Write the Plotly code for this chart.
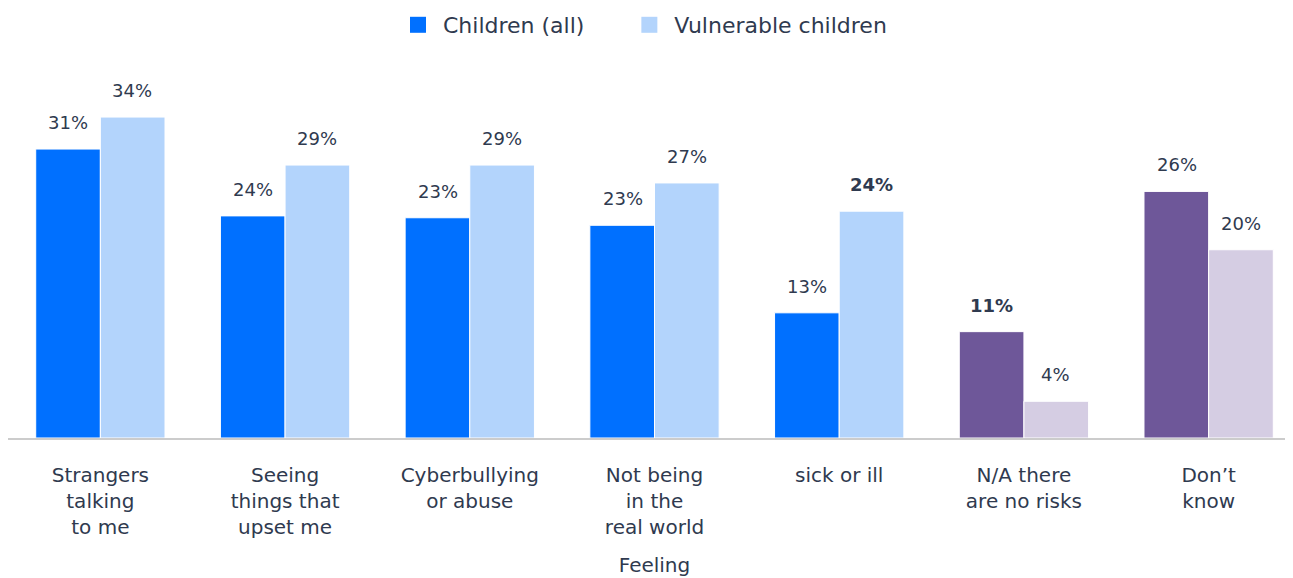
import plotly.graph_objects as go

categories = ["Strangers<br>talking<br>to me", "Seeing<br>things that<br>upset me",
              "Cyberbullying<br>or abuse", "Not being<br>in the<br>real world",
              "sick or ill", "N/A there<br>are no risks", "Don’t<br>know"]
children_all = [30.7, 23.6, 23.4, 22.6, 13.3, 11.3, 26.2]
vulnerable = [34.1, 29.0, 29.0, 27.1, 24.1, 3.9, 20.0]
bold_all = [False, False, False, False, False, True, False]
bold_vuln = [False, False, False, False, True, False, False]
series_names = ["Children (all)", "Vulnerable children"]

BLUE = "#0070FF"
LBLUE = "#B3D4FC"
PURPLE = "#6E5799"
LPURPLE = "#D5CDE3"
TXT = "#2F3A4F"
FONT = "DejaVu Sans"

purple_cats = {"N/A there<br>are no risks", "Don’t<br>know"}

fig = go.Figure()
for i, (name, vals, bold, c_main, c_alt, grp, shift) in enumerate([
        (series_names[0], children_all, bold_all, BLUE, PURPLE, "a", -32),
        (series_names[1], vulnerable, bold_vuln, LBLUE, LPURPLE, "b", 32)]):
    cols = [c_alt if c in purple_cats else c_main for c in categories]
    fig.add_trace(go.Bar(name=name, x=categories, y=vals, offsetgroup=grp,
                         marker=dict(color=cols, line=dict(color="white", width=1)),
                         showlegend=False, hoverinfo="x+y"))
    for c, v, b in zip(categories, vals, bold):
        t = f"{round(v)}%"
        fig.add_annotation(x=c, y=v, text=f"<b>{t}</b>" if b else t, showarrow=False,
                           xshift=shift, yshift=14, yanchor="bottom",
                           font=dict(family=FONT, size=18, color=TXT))
    legend_label = name + ("\u00a0\u00a0\u00a0\u00a0\u00a0" if i == 0 else "")
    fig.add_trace(go.Scatter(name=legend_label, x=[None], y=[None], mode="markers",
                             marker=dict(symbol="square", size=20, color=c_main)))

fig.update_layout(
    width=1293, height=578,
    barmode="group", bargap=0.3, bargroupgap=0,
    plot_bgcolor="white", paper_bgcolor="white",
    font=dict(family=FONT, color=TXT, size=20),
    margin=dict(l=0, r=0, t=62, b=148),
    legend=dict(orientation="h", x=0.4907, xanchor="center", xref="paper",
                y=0.9706, yanchor="middle", yref="container",
                font=dict(size=22, family=FONT, color=TXT), itemsizing="trace", itemwidth=40,
                traceorder="normal"),
    xaxis=dict(showline=True, linecolor="#CCCCCC", linewidth=2, ticks="",
               automargin=False, ticklabelstandoff=18,
               tickfont=dict(size=20, color=TXT),
               title=dict(text="Feeling", font=dict(size=20, color=TXT), standoff=20)),
    yaxis=dict(visible=False, range=[0, 39.1], fixedrange=True, automargin=False),
)
fig.write_html("out.html")
